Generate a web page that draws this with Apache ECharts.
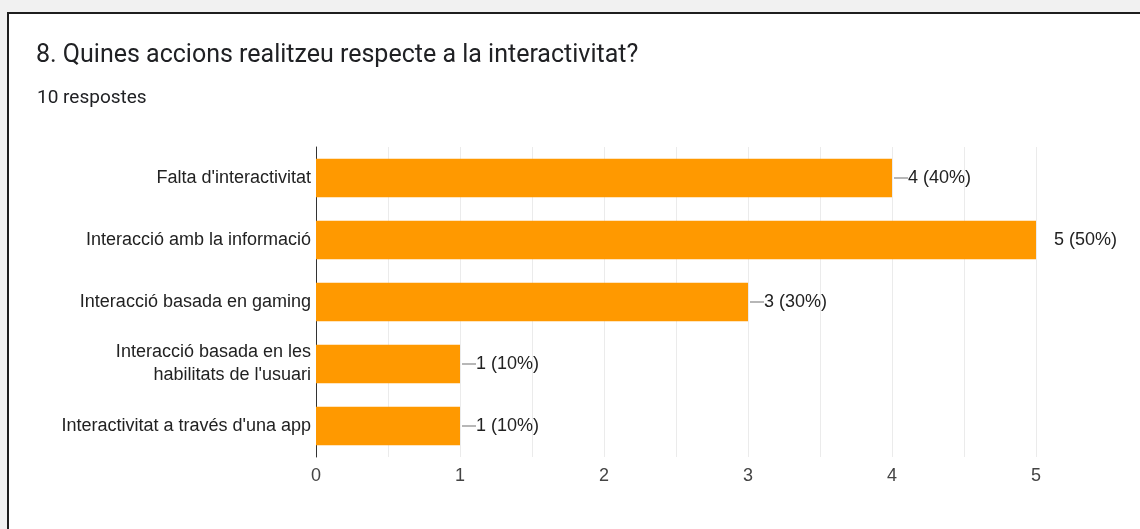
<!DOCTYPE html>
<html>
<head>
<meta charset="utf-8">
<script src="https://cdn.jsdelivr.net/npm/echarts@6/dist/echarts.min.js"></script>
<style>
  html, body { margin: 0; padding: 0; width: 1140px; height: 529px; overflow: hidden; background: #f1f1f1; }
  #card { position: absolute; left: 7px; top: 12px; width: 1200px; height: 600px; background: #fff;
          border-left: 2px solid #1e1e1e; border-top: 2px solid #1e1e1e; }
  #chart { position: absolute; left: 0; top: 0; width: 1140px; height: 529px; }
</style>
</head>
<body>
<div id="card"></div>
<div id="chart"></div>
<script>
// Survey question and response count
const questionTitle = "8. Quines accions realitzeu respecte a la interactivitat?";
const responseCount = "10 respostes";

// Answer options (top to bottom) and number of responses for each
const categories = [
  "Falta d'interactivitat",
  "Interacció amb la informació",
  "Interacció basada en gaming",
  "Interacció basada en les\nhabilitats de l'usuari",
  "Interactivitat a través d'una app"
];
const counts = [4, 5, 3, 1, 1];
const percents = [40, 50, 30, 10, 10];
const axisTicks = [0, 1, 2, 3, 4, 5];

const labelFont = '"Liberation Sans", Arial, sans-serif';

const chart = echarts.init(document.getElementById('chart'), null, { renderer: 'canvas' });

const barData = counts.map((v, i) => {
  const item = { value: v };
  // the longest bar reaches the plot edge, so its label sits a bit further out without a leader
  if (v === Math.max(...counts)) {
    item.label = { distance: 18, formatter: (p) => `${p.value} (${percents[p.dataIndex]}%)` };
  }
  return item;
});

chart.setOption({
  backgroundColor: 'transparent',
  animation: false,
  title: [
    { text: questionTitle, left: 31, top: 38,
      textStyle: { fontFamily: 'Roboto, Arial, sans-serif', fontSize: 25, fontWeight: 'normal', color: '#202124' } },
    { text: responseCount, left: 32, top: 84,
      textStyle: { fontFamily: 'Roboto, Arial, sans-serif', fontSize: 19, fontWeight: 'normal', color: '#202124' } }
  ],
  grid: { left: 316, right: 104, top: 147, bottom: 72, containLabel: false },
  xAxis: {
    type: 'value', min: 0, max: 5, interval: 0.5,
    axisLine: { show: false },
    axisTick: { show: false },
    splitLine: { show: true, lineStyle: { color: '#ebebeb', width: 1 } },
    axisLabel: {
      margin: 10,
      fontFamily: labelFont, fontSize: 18, color: '#444',
      formatter: (v) => axisTicks.includes(v) ? String(v) : ''
    }
  },
  yAxis: {
    type: 'category', inverse: true, data: categories,
    axisLine: { show: true, lineStyle: { color: '#333', width: 1 } },
    axisTick: { show: false },
    axisLabel: {
      margin: 5,
      fontFamily: labelFont, fontSize: 18, color: '#222', lineHeight: 23,
      align: 'right'
    }
  },
  series: [{
    type: 'bar',
    data: barData,
    barCategoryGap: '38%',
    itemStyle: { color: '#ff9900' },
    label: {
      show: true, position: 'right', distance: 2,
      fontFamily: labelFont, fontSize: 18, color: '#222',
      formatter: (p) => `{ln|}${p.value} (${percents[p.dataIndex]}%)`,
      rich: {
        ln: { width: 14, height: 1, backgroundColor: '#6f6f6f', padding: 0 }
      }
    }
  }]
});
</script>
</body>
</html>
